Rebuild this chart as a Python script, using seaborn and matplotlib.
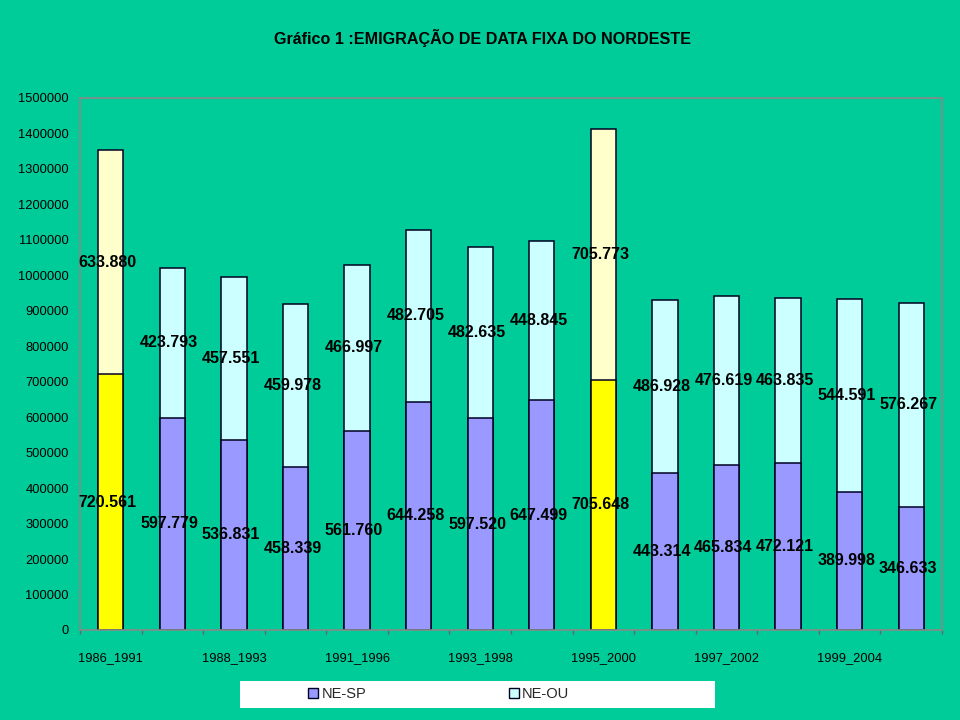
import seaborn as sns
import matplotlib.pyplot as plt
import pandas as pd
from matplotlib.patches import Patch, Rectangle

# emigração de data fixa do Nordeste: NE -> SP e NE -> outras UFs
periods = ["1986_1991", "1987_1992", "1988_1993", "1990_1995", "1991_1996",
           "1992_1997", "1993_1998", "1994_1999", "1995_2000", "1996_2001",
           "1997_2002", "1998_2003", "1999_2004", "2000_2005"]
ne_sp = [720561, 597779, 536831, 458339, 561760, 644258, 597520,
         647499, 705648, 443314, 465834, 472121, 389998, 346633]
ne_ou = [633880, 423793, 457551, 459978, 466997, 482705, 482635,
         448845, 705773, 486928, 476619, 463835, 544591, 576267]
census = ["1986_1991", "1995_2000"]

df = pd.DataFrame({"periodo": periods, "NE-SP": ne_sp, "NE-OU": ne_ou})
df["total"] = df["NE-SP"] + df["NE-OU"]

bg = "#00CC99"
sp_col, ou_col = "#9999FF", "#CCFFFF"
sp_census, ou_census = "#FFFF00", "#FFFFCC"
sp_pal = [sp_census if p in census else sp_col for p in periods]
ou_pal = [ou_census if p in census else ou_col for p in periods]

sns.set_theme(style="white")
plt.rcParams["font.family"] = ["Liberation Sans", "DejaVu Sans"]

fig, ax = plt.subplots(figsize=(9.6, 7.2), dpi=100)
fig.patch.set_facecolor(bg)
ax.set_facecolor(bg)
fig.subplots_adjust(left=80 / 960, right=942 / 960, bottom=90 / 720, top=622 / 720)

edge = dict(edgecolor="#000022", linewidth=1.1, width=0.41, saturation=1,
            errorbar=None, legend=False, order=periods)
sns.barplot(data=df, x="periodo", y="total", hue="periodo", palette=ou_pal, ax=ax, **edge)
sns.barplot(data=df, x="periodo", y="NE-SP", hue="periodo", palette=sp_pal, ax=ax, **edge)

fmt = lambda v: f"{v:,}".replace(",", ".")
for i, (a, b) in enumerate(zip(ne_sp, ne_ou)):
    ax.text(i - 0.05, a / 2, fmt(a), ha="center", va="center", fontsize=11.5,
            fontweight="bold", color="black")
    ax.text(i - 0.05, a + b / 2, fmt(b), ha="center", va="center", fontsize=11.5,
            fontweight="bold", color="black")

ax.set_ylim(0, 1500000)
ax.set_xlim(-0.5, len(periods) - 0.5)
yt = list(range(0, 1500001, 100000))
ax.set_yticks(yt)
ax.set_yticklabels([str(v) for v in yt], fontsize=9.3)
ax.set_xticks(range(0, len(periods), 2))
ax.set_xticklabels(periods[::2], fontsize=9.3)
ax.set_xticks([i + 0.5 for i in range(-1, len(periods))], minor=True)
ax.tick_params(axis="y", length=0, pad=8, colors="black")
ax.tick_params(axis="x", which="major", length=0, pad=16, colors="black")
ax.tick_params(axis="x", which="minor", length=3, color="#666666", direction="out", bottom=True)
ax.set_xlabel("")
ax.set_ylabel("")
for s in ax.spines.values():
    s.set_color("#888888")
    s.set_linewidth(1.2)

fig.text(0.503, 0.947, "Gráfico 1 :EMIGRAÇÃO DE DATA FIXA DO NORDESTE",
         ha="center", va="center", fontsize=11.6, fontweight="bold", color="black")

# caixa branca da legenda
fig.patches.append(Rectangle((240 / 960, 12 / 720), 475 / 960, 27 / 720,
                             transform=fig.transFigure, facecolor="white",
                             edgecolor="none", zorder=0))
handles = [Patch(facecolor=sp_col, edgecolor="#000022", label="NE-SP"),
           Patch(facecolor=ou_col, edgecolor="#000022", label="NE-OU")]
fig.legend(handles=handles, loc="center", bbox_to_anchor=(0.457, 26 / 720), ncol=2,
           frameon=False, fontsize=10.5, handlelength=0.7, handleheight=0.7,
           handletextpad=0.2, columnspacing=9.8)

fig.savefig("out.png", dpi=100, facecolor=bg)
